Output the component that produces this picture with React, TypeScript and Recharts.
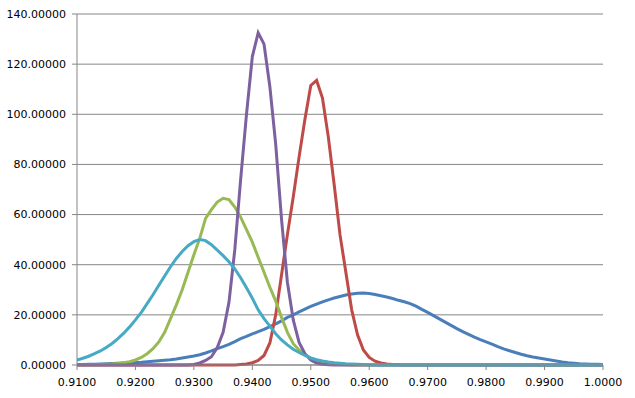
import React from "react";
import { LineChart, Line, XAxis, YAxis, CartesianGrid } from "recharts";

const xValues = [
  0.910, 0.911, 0.912, 0.913, 0.914, 0.915, 0.916, 0.917, 0.918, 0.919,
  0.920, 0.921, 0.922, 0.923, 0.924, 0.925, 0.926, 0.927, 0.928, 0.929,
  0.930, 0.931, 0.932, 0.933, 0.934, 0.935, 0.936, 0.937, 0.938, 0.939,
  0.940, 0.941, 0.942, 0.943, 0.944, 0.945, 0.946, 0.947, 0.948, 0.949,
  0.950, 0.951, 0.952, 0.953, 0.954, 0.955, 0.956, 0.957, 0.958, 0.959,
  0.960, 0.961, 0.962, 0.963, 0.964, 0.965, 0.966, 0.967, 0.968, 0.969,
  0.970, 0.971, 0.972, 0.973, 0.974, 0.975, 0.976, 0.977, 0.978, 0.979,
  0.980, 0.981, 0.982, 0.983, 0.984, 0.985, 0.986, 0.987, 0.988, 0.989,
  0.990, 0.991, 0.992, 0.993, 0.994, 0.995, 0.996, 0.997, 0.998, 0.999,
  1.000,
];

const blueSeries = [
  0.2, 0.2, 0.3, 0.3, 0.4, 0.5, 0.6, 0.7, 0.8, 0.9,
  1.0, 1.1, 1.3, 1.5, 1.7, 1.9, 2.1, 2.4, 2.8, 3.2,
  3.6, 4.1, 4.8, 5.6, 6.5, 7.3, 8.2, 9.3, 10.5, 11.4,
  12.4, 13.3, 14.2, 15.3, 16.4, 17.6, 19.0, 20.0, 21.2, 22.3,
  23.4, 24.3, 25.2, 26.0, 26.7, 27.3, 27.9, 28.3, 28.6, 28.7,
  28.5, 28.1, 27.6, 27.1, 26.5, 25.8, 25.2, 24.5, 23.5, 22.2,
  21.0, 19.7, 18.4, 17.1, 15.8, 14.5, 13.3, 12.2, 11.1, 10.1,
  9.2, 8.3, 7.3, 6.4, 5.7, 5.0, 4.3, 3.7, 3.2, 2.8,
  2.4, 2.0, 1.6, 1.2, 0.9, 0.7, 0.5, 0.4, 0.3, 0.3,
  0.2,
];

const redSeries = [
  0, 0, 0, 0, 0, 0, 0, 0, 0, 0,
  0, 0, 0, 0, 0, 0, 0, 0, 0, 0,
  0, 0, 0, 0, 0, 0, 0, 0, 0.2, 0.4,
  0.9, 1.8, 3.8, 8.8, 20, 36, 52, 67, 83, 98,
  111.5, 113.5, 106.5, 91, 72, 52, 37, 22, 12, 6,
  3, 1.5, 0.8, 0.4, 0.2, 0.1, 0, 0, 0, 0,
  0, 0, 0, 0, 0, 0, 0, 0, 0, 0,
  0, 0, 0, 0, 0, 0, 0, 0, 0, 0,
  0, 0, 0, 0, 0, 0, 0, 0, 0, 0,
  0,
];

const greenSeries = [
  0, 0, 0.1, 0.1, 0.2, 0.3, 0.4, 0.6, 0.9, 1.3,
  2.0, 3.0, 4.5, 6.5, 9.2, 13, 18.5, 24, 30, 37,
  44, 50.5, 58.5, 62, 65, 66.5, 66, 63, 59, 54,
  49, 43, 37, 31, 25.5, 19, 13, 8.5, 6, 4.2,
  2.6, 1.5, 0.9, 0.5, 0.3, 0.2, 0.1, 0, 0, 0,
  0, 0, 0, 0, 0, 0, 0, 0, 0, 0,
  0, 0, 0, 0, 0, 0, 0, 0, 0, 0,
  0, 0, 0, 0, 0, 0, 0, 0, 0, 0,
  0, 0, 0, 0, 0, 0, 0, 0, 0, 0,
  0,
];

const purpleSeries = [
  0, 0, 0, 0, 0, 0, 0, 0, 0, 0,
  0, 0, 0, 0, 0, 0, 0, 0, 0, 0,
  0.2, 0.8, 1.8, 3.3, 7, 13, 25, 46, 74, 100,
  123, 132.5, 128, 111, 88, 58, 33, 18, 9, 4.5,
  2, 0.8, 0.3, 0.1, 0, 0, 0, 0, 0, 0,
  0, 0, 0, 0, 0, 0, 0, 0, 0, 0,
  0, 0, 0, 0, 0, 0, 0, 0, 0, 0,
  0, 0, 0, 0, 0, 0, 0, 0, 0, 0,
  0, 0, 0, 0, 0, 0, 0, 0, 0, 0,
  0,
];

const cyanSeries = [
  2.0, 2.7, 3.5, 4.5, 5.6, 7.0, 8.6, 10.5, 12.7, 15.2,
  18.0, 21.0, 24.5, 28.0, 31.8, 35.5, 39.2, 42.5, 45.3, 47.6,
  49.2, 50.0, 49.6, 48.0, 45.8, 43.6, 41.2, 38.3, 34.8, 30.8,
  26.6, 22.0, 18.5, 15.5, 12.5, 10.0, 8.0, 6.3, 5.0, 3.8,
  2.8, 2.1, 1.6, 1.2, 0.9, 0.7, 0.5, 0.4, 0.3, 0.2,
  0.1, 0, 0, 0, 0, 0, 0, 0, 0, 0,
  0, 0, 0, 0, 0, 0, 0, 0, 0, 0,
  0, 0, 0, 0, 0, 0, 0, 0, 0, 0,
  0, 0, 0, 0, 0, 0, 0, 0, 0, 0,
  0,
];

const xTicks = [0.91, 0.92, 0.93, 0.94, 0.95, 0.96, 0.97, 0.98, 0.99, 1.0];
const yTicks = [0, 20, 40, 60, 80, 100, 120, 140];

const data = xValues.map((x, i) => ({
  x,
  s1: blueSeries[i],
  s2: redSeries[i],
  s3: greenSeries[i],
  s4: purpleSeries[i],
  s5: cyanSeries[i],
}));

const axisColor = "#868686";
const tickStyle = { fontFamily: "DejaVu Sans", fontSize: 11, fill: "#000" };

export default function App() {
  return (
    <div style={{ position: "absolute", left: 0, top: 0, width: 635, height: 398, background: "#fff" }}>
      <LineChart width={635} height={398} data={data} margin={{ top: 14, right: 32, bottom: 0, left: 0 }}>
        <CartesianGrid vertical={false} stroke={axisColor} strokeWidth={1} />
        <XAxis
          dataKey="x"
          type="number"
          domain={[0.91, 1.0]}
          ticks={xTicks}
          tickFormatter={(v: number) => v.toFixed(4)}
          stroke={axisColor}
          tickSize={5}
          tickMargin={8}
          height={33}
          tick={tickStyle}
          interval={0}
          allowDataOverflow
        />
        <YAxis
          type="number"
          domain={[0, 140]}
          ticks={yTicks}
          tickFormatter={(v: number) => v.toFixed(5)}
          stroke={axisColor}
          tickSize={5}
          tickMargin={6}
          width={77}
          tick={tickStyle}
          interval={0}
        />
        <Line type="linear" dataKey="s1" stroke="#4A7EBB" strokeWidth={3} dot={false} isAnimationActive={false} />
        <Line type="linear" dataKey="s2" stroke="#BE4B48" strokeWidth={3} dot={false} isAnimationActive={false} />
        <Line type="linear" dataKey="s3" stroke="#98B954" strokeWidth={3} dot={false} isAnimationActive={false} />
        <Line type="linear" dataKey="s4" stroke="#7D60A0" strokeWidth={3} dot={false} isAnimationActive={false} />
        <Line type="linear" dataKey="s5" stroke="#46AAC5" strokeWidth={3} dot={false} isAnimationActive={false} />
      </LineChart>
    </div>
  );
}
